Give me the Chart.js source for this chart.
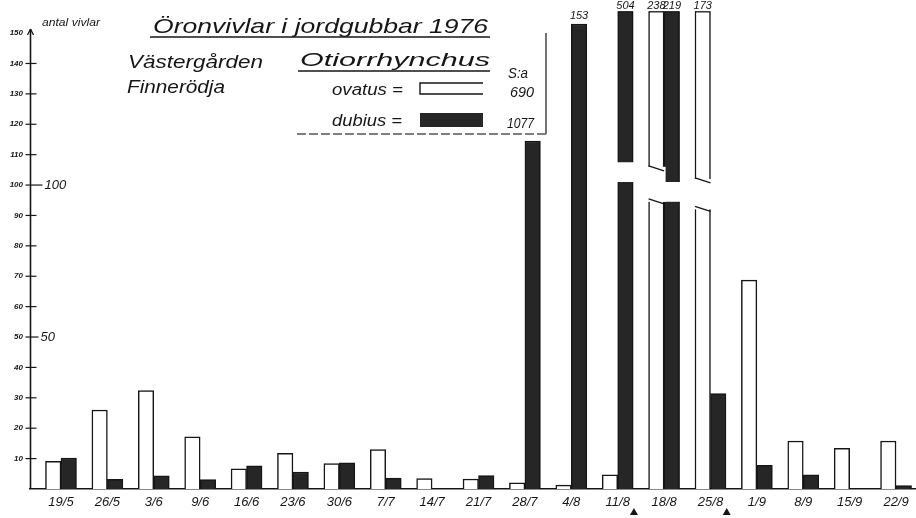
<!DOCTYPE html>
<html lang="sv">
<head>
<meta charset="utf-8">
<title>Öronvivlar i jordgubbar 1976</title>
<script src="https://cdn.jsdelivr.net/npm/chart.js@4.4.1/dist/chart.umd.min.js"></script>
<style>
  html, body { margin: 0; padding: 0; background: #fff; overflow: hidden; }
  #wrap { position: relative; width: 916px; height: 518px; }
</style>
</head>
<body>
<div id="wrap"><canvas id="chart" width="916" height="518"></canvas></div>
<script>
"use strict";

// ---- data (antal vivlar per provtagning) ----
const DATES = ["19/5", "26/5", "3/6", "9/6", "16/6", "23/6", "30/6", "7/7", "14/7", "21/7",
               "28/7", "4/8", "11/8", "18/8", "25/8", "1/9", "8/9", "15/9", "22/9"];
const OVATUS = [9.1, 26, 32.4, 17.2, 6.6, 11.7, 8.4, 13, 3.4, 3.3,
                2, 1.3, 4.7, 238, 173, 68.7, 15.8, 13.4, 15.8];
const DUBIUS = [10.2, 3.2, 4.3, 3.1, 7.6, 5.6, 8.6, 3.6, 0, 4.4,
                114.5, 153, 504, 219, 31.4, 7.8, 4.7, 0, 1.1];
const SERIES = ["ovatus", "dubius"];
const TOTALS = ["690", "1077"];
const Y_TICKS = [10, 20, 30, 40, 50, 60, 70, 80, 90, 100, 110, 120, 130, 140, 150];
const Y_BIG = [50, 100];
const Y_MAX = 157;

// broken bars (value range that is cut out) and spray marks under the axis
const BREAKS = [
    { index: 12, series: 1, lo: 101, hi: 107.5 },
    { index: 13, series: 0, lo: 94.5, hi: 106 },
    { index: 13, series: 1, lo: 94.5, hi: 101 },
    { index: 14, series: 0, lo: 92, hi: 102 }
];
const SPRAY = [12.35, 14.35];

const FAMILY = '"Liberation Sans", Arial, sans-serif';
const INK = "#161616";
const DARK = "#262626";

function drawFit(ctx, text, x, y, size, width) {
    ctx.font = `italic ${size}px ${FAMILY}`;
    const w = ctx.measureText(text).width;
    ctx.save();
    ctx.translate(x, y);
    ctx.scale(width / w, 1);
    ctx.textAlign = "left";
    ctx.textBaseline = "alphabetic";
    ctx.fillText(text, 0, 0);
    ctx.restore();
}

function line(ctx, x1, y1, x2, y2, w) {
    ctx.lineWidth = w || 1.5;
    ctx.beginPath();
    ctx.moveTo(x1, y1);
    ctx.lineTo(x2, y2);
    ctx.stroke();
}

const decor = {
    id: "decor",
    afterDatasetsDraw(chart) {
        const ctx = chart.ctx;
        const ys = chart.scales.y;
        const area = chart.chartArea;
        ctx.save();
        ctx.strokeStyle = INK;
        ctx.fillStyle = INK;

        // cuts in the tall bars
        BREAKS.forEach(b => {
            const bar = chart.getDatasetMeta(b.series).data[b.index];
            const left = bar.x - bar.width / 2;
            const right = bar.x + bar.width / 2;
            const yHi = ys.getPixelForValue(b.hi);
            const yLo = ys.getPixelForValue(b.lo);
            ctx.fillStyle = "#fff";
            ctx.fillRect(left - 1.5, yHi, right - left + 3, yLo - yHi);
            if (b.series === 0) {
                line(ctx, left, yHi - 1, right, yHi + 4, 1.3);
                line(ctx, left, yLo - 3, right, yLo + 2, 1.3);
            }
        });

        // counts over the bars that leave the frame
        ctx.fillStyle = INK;
        ctx.font = `italic 11px ${FAMILY}`;
        ctx.textAlign = "center";
        ctx.textBaseline = "alphabetic";
        [OVATUS, DUBIUS].forEach((vals, s) => {
            const meta = chart.getDatasetMeta(s);
            vals.forEach((v, i) => {
                if (v <= 150) return;
                const bar = meta.data[i];
                if (v > Y_MAX) {
                    line(ctx, bar.x - bar.width / 2, area.top, bar.x + bar.width / 2, area.top, 1.3);
                    ctx.fillText(String(v), bar.x, area.top - 3);
                } else {
                    ctx.fillText(String(v), bar.x, bar.y - 5);
                }
            });
        });
        ctx.restore();
    },
    afterDraw(chart) {
        const ctx = chart.ctx;
        const xs = chart.scales.x;
        const ys = chart.scales.y;
        const area = chart.chartArea;
        const ax = area.left + 0.5;
        ctx.save();
        ctx.strokeStyle = INK;
        ctx.fillStyle = INK;

        // y axis with arrow
        const top = ys.getPixelForValue(150) - 4;
        line(ctx, ax, area.bottom, ax, top, 1.6);
        line(ctx, ax, top, ax - 3, top + 6, 1.3);
        line(ctx, ax, top, ax + 3, top + 6, 1.3);
        Y_TICKS.forEach(t => {
            if (t === 150) return;
            const y = ys.getPixelForValue(t);
            const ext = t === 100 ? 12 : (t === 50 ? 8 : 6);
            line(ctx, ax - 5, y, ax + ext, y, 1.2);
        });
        ctx.textBaseline = "middle";
        Y_BIG.forEach(t => {
            const y = ys.getPixelForValue(t);
            ctx.font = `italic 13px ${FAMILY}`;
            ctx.textAlign = "left";
            ctx.fillText(String(t), ax + (t === 100 ? 14 : 10), y);
        });
        ctx.textBaseline = "alphabetic";
        drawFit(ctx, "antal vivlar", 42, 26, 11, 58);

        // spray marks
        SPRAY.forEach(v => {
            const x = xs.getPixelForValue(v);
            ctx.beginPath();
            ctx.moveTo(x, 508);
            ctx.lineTo(x + 4, 515);
            ctx.lineTo(x - 4, 515);
            ctx.closePath();
            ctx.fill();
        });

        // heading block
        drawFit(ctx, "Öronvivlar i jordgubbar 1976", 153, 33, 21, 335);
        line(ctx, 150, 37, 490, 37, 1.3);
        drawFit(ctx, "Västergården", 128, 68, 19, 135);
        drawFit(ctx, "Finnerödja", 127, 93, 19, 98);
        drawFit(ctx, "Otiorrhynchus", 300, 66, 19, 190);
        line(ctx, 298, 71, 490, 71, 1.3);

        // legend
        drawFit(ctx, "S:a", 508, 78, 15, 20);
        drawFit(ctx, SERIES[0] + " =", 332, 95, 16, 71);
        drawFit(ctx, SERIES[1] + " =", 332, 126, 16, 70);
        ctx.lineWidth = 1.4;
        ctx.beginPath();
        ctx.moveTo(483, 83);
        ctx.lineTo(420, 83);
        ctx.lineTo(420, 94);
        ctx.lineTo(483, 94);
        ctx.stroke();
        ctx.fillStyle = DARK;
        ctx.fillRect(420, 113, 63, 14);
        ctx.fillStyle = INK;
        drawFit(ctx, TOTALS[0], 510, 97, 14, 24);
        drawFit(ctx, TOTALS[1], 507, 128, 14, 27);
        line(ctx, 546, 33, 546, 134, 1.2);
        ctx.strokeStyle = "#555";
        ctx.setLineDash([9, 3]);
        line(ctx, 297, 134, 546, 134, 1.3);
        ctx.setLineDash([]);
        ctx.restore();
    }
};

const barStyle = (fill) => ({
    backgroundColor: fill,
    borderColor: INK,
    borderWidth: 1.5,
    borderSkipped: "start",
    barThickness: 15.5
});

new Chart(document.getElementById("chart"), {
    type: "bar",
    data: {
        datasets: [
            Object.assign({ label: SERIES[0], data: OVATUS.map((v, i) => ({ x: i, y: v })) }, barStyle("#ffffff")),
            Object.assign({ label: SERIES[1], data: DUBIUS.map((v, i) => ({ x: i, y: v })) }, barStyle(DARK))
        ]
    },
    options: {
        responsive: false,
        animation: false,
        events: [],
        layout: { padding: { top: 11, right: 0, bottom: 0, left: 0 } },
        plugins: {
            legend: { display: false },
            tooltip: { enabled: false }
        },
        scales: {
            x: {
                type: "linear",
                offset: false,
                min: -0.668,
                max: 18.43,
                grid: { display: false, drawTicks: false, offset: false },
                border: { display: true, color: INK, width: 1.5 },
                afterBuildTicks: s => { s.ticks = DATES.map((d, i) => ({ value: i })); },
                afterFit: s => { s.height = 29; s.paddingLeft = 0; s.paddingRight = 0; },
                ticks: {
                    autoSkip: false,
                    maxRotation: 0,
                    padding: 6,
                    color: INK,
                    font: { family: FAMILY, size: 13, style: "italic" },
                    callback: v => DATES[v] || ""
                }
            },
            y: {
                min: 0,
                max: Y_MAX,
                grid: { display: false, drawTicks: false },
                border: { display: false },
                afterBuildTicks: s => { s.ticks = Y_TICKS.map(v => ({ value: v })); },
                afterFit: s => { s.width = 30; },
                ticks: {
                    padding: 7,
                    color: INK,
                    font: { family: FAMILY, size: 8, style: "italic", weight: "bold" }
                }
            }
        }
    },
    plugins: [decor]
});
</script>
</body>
</html>
